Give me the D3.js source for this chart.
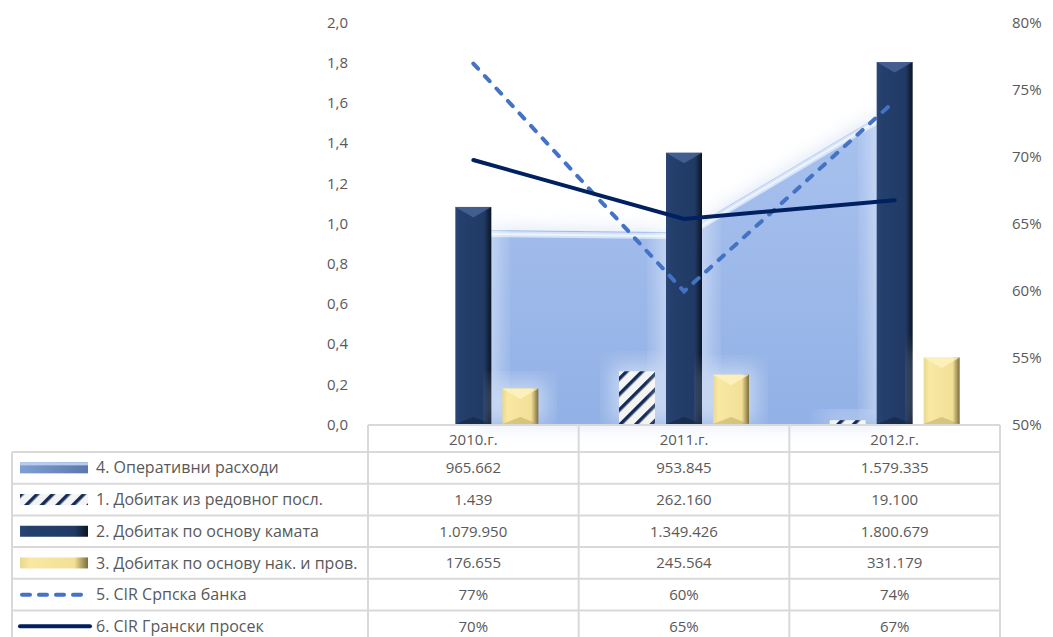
<!DOCTYPE html>
<html>
<head>
<meta charset="UTF-8">
<title>Оперативни расходи и добитак</title>
<style>
  body { margin: 0; background: #fff; }
  text { font-family: "Open Sans", "Noto Sans", sans-serif; fill: #595959; }
</style>
</head>
<body>
<script src="https://d3js.org/d3.v7.min.js"></script>
<svg width="1053" height="637"></svg>
<script>
    // categories and series (values in thousands)
    let years = ['2010.г.', '2011.г.', '2012.г.'];
    let opex = [965662, 953845, 1579335];           // 4. area
    let regularProfit = [1439, 262160, 19100];      // 1. striped bars
    let interestProfit = [1079950, 1349426, 1800679]; // 2. navy bars
    let feeProfit = [176655, 245564, 331179];       // 3. yellow bars
    let cirBank = [0.769, 0.599, 0.741];            // 5. dashed line
    let cirSector = [0.697, 0.653, 0.667];          // 6. solid line
    let leftTicks = [0, 0.2, 0.4, 0.6, 0.8, 1.0, 1.2, 1.4, 1.6, 1.8, 2.0];
    let rightTicks = [0.5, 0.55, 0.6, 0.65, 0.7, 0.75, 0.8];

    let legendNames = [
        '4. Оперативни расходи',
        '1. Добитак из редовног посл.',
        '2. Добитак по основу камата',
        '3. Добитак по основу нак. и пров.',
        '5. CIR Српска банка',
        '6. CIR Грански просек'
    ];

    let svg = d3.select('svg');
    let plotL = 368, plotR = 1000, plotT = 22, plotB = 424;

    let x = d3.scaleBand().domain(years).range([plotL, plotR]);
    let xc = d => x(d) + x.bandwidth() / 2;
    let sub = d3.scaleBand().domain(['r', 'i', 'f']).range([-65, 65]).paddingInner(11 / 47);
    let y = d3.scaleLinear().domain([0, 2]).range([plotB, plotT]);
    let y2 = d3.scaleLinear().domain([0.5, 0.8]).range([plotB, plotT]);

    let loc = d3.formatLocale({ decimal: ',', thousands: '.', grouping: [3], currency: ['', ''] });
    let fmtInt = loc.format(',d');
    let fmtAxis = loc.format('.1f');

    let defs = svg.append('defs');

    // gradients for bevelled bars
    function hGrad(id, stops) {
        let g = defs.append('linearGradient').attr('id', id).attr('x1', 0).attr('x2', 1).attr('y1', 0).attr('y2', 0);
        stops.forEach(s => g.append('stop').attr('offset', s[0]).attr('stop-color', s[1]));
    }
    hGrad('navyG', [[0, '#2a4675'], [0.15, '#243f6c'], [0.8, '#213a65'], [1, '#0b1424']]);
    hGrad('yelG', [[0, '#e9d88e'], [0.15, '#f8e8a2'], [0.8, '#f3e097'], [1, '#7c6d3c']]);
    hGrad('swA', [[0, '#7f9fd3'], [1, '#5a78ad']]);

    let vg = defs.append('linearGradient').attr('id', 'areaG').attr('x1', 0).attr('x2', 0).attr('y1', 0).attr('y2', 1);
    vg.append('stop').attr('offset', 0).attr('stop-color', '#a9c2ee');
    vg.append('stop').attr('offset', 1).attr('stop-color', '#92b1e6');

    let pat = defs.append('pattern').attr('id', 'stripes').attr('patternUnits', 'userSpaceOnUse')
        .attr('width', 11).attr('height', 11).attr('patternTransform', 'rotate(45)');
    pat.append('rect').attr('width', 11).attr('height', 11).attr('fill', '#f4f4f4');
    pat.append('rect').attr('x', 0).attr('width', 3.5).attr('height', 11).attr('fill', '#142c57');

    let glow = defs.append('filter').attr('id', 'glow').attr('x', '-20%').attr('y', '-20%').attr('width', '140%').attr('height', '140%');
    glow.append('feGaussianBlur').attr('stdDeviation', 10);

    // area: operating expenses
    let area = d3.area().x((d, i) => xc(years[i])).y0(plotB).y1(d => y(d / 1e6));
    svg.append('path').datum(opex).attr('d', area)
        .attr('fill', '#c9d8ef').attr('opacity', 0.7).attr('filter', 'url(#glow)');
    svg.append('path').datum(opex).attr('d', area).attr('fill', 'url(#areaG)');
    let topLine = d3.line().x((d, i) => xc(years[i])).y(d => y(d / 1e6) + 4);
    svg.append('path').datum(opex).attr('d', topLine).attr('fill', 'none')
        .attr('stroke', '#d4e3fa').attr('stroke-width', 6);
    svg.append('path').datum(opex).attr('d', topLine).attr('fill', 'none')
        .attr('stroke', '#eef4fd').attr('stroke-width', 2);

    // bars
    let barSeries = [
        { key: 'r', vals: regularProfit, fill: 'url(#stripes)', top: '#ffffff', bot: '#0e1f3d' },
        { key: 'i', vals: interestProfit, fill: 'url(#navyG)', top: '#4d6a9c', bot: '#0f1e38' },
        { key: 'f', vals: feeProfit, fill: 'url(#yelG)', top: '#fff4c4', bot: '#b9a661' }
    ];
    barSeries.forEach(s => {
        let g = svg.append('g');
        years.forEach((yr, i) => {
            let x0 = xc(yr) + sub(s.key), w = sub.bandwidth();
            let y0 = y(s.vals[i] / 1e6), h = plotB - y0;
            if (h < 0.5) return;
            g.append('rect').attr('x', x0 - 8).attr('y', y0 - 8).attr('width', w + 16).attr('height', h + 8)
                .attr('fill', '#ffffff').attr('opacity', 0.45).attr('filter', 'url(#glow)');
            g.append('rect').attr('x', x0).attr('y', y0).attr('width', w).attr('height', h).attr('fill', s.fill);
            if (h > 16 && s.key !== 'r') {
                let b = 7;
                g.append('polygon').attr('points', [[x0, y0], [x0 + w, y0], [x0 + w / 2, y0 + b * 1.5]].join(' '))
                    .attr('fill', s.top).attr('opacity', 0.75);
                g.append('polygon').attr('points', [[x0, plotB], [x0 + w, plotB], [x0 + w / 2, plotB - b]].join(' '))
                    .attr('fill', s.bot).attr('opacity', 0.5);
            }
        });
    });

    // lines on right axis
    let line2 = d3.line().x((d, i) => xc(years[i])).y(d => y2(d));
    svg.append('path').datum(cirBank).attr('d', line2).attr('fill', 'none')
        .attr('stroke', '#4472c4').attr('stroke-width', 4).attr('stroke-linecap', 'round')
        .attr('stroke-dasharray', '7,10');
    svg.append('path').datum(cirSector).attr('d', line2).attr('fill', 'none')
        .attr('stroke', '#002060').attr('stroke-width', 4).attr('stroke-linecap', 'round');

    // axes
    let axL = svg.append('g').attr('transform', 'translate(' + (plotL - 17) + ',0)')
        .call(d3.axisLeft(y).tickValues(leftTicks).tickFormat(d => fmtAxis(d)).tickSize(0));
    let axR = svg.append('g').attr('transform', 'translate(' + (plotR + 9) + ',0)')
        .call(d3.axisRight(y2).tickValues(rightTicks).tickFormat(d3.format('.0%')).tickSize(0));
    [axL, axR].forEach(a => {
        a.select('.domain').remove();
        a.selectAll('text').attr('font-size', 15).attr('fill', '#595959')
            .style('font-family', '"Open Sans", sans-serif').attr('dy', '0.35em');
    });

    // data table
    let rowTop = 425, headH = 27, rowH = 31.7, tblL = 12;
    let grid = '#d9d9d9';
    let tbl = svg.append('g');
    let rowsData = [opex, regularProfit, interestProfit, feeProfit, cirBank, cirSector];
    let fmtPct = d3.format('.0%');

    // header
    years.forEach(yr => {
        tbl.append('text').attr('x', xc(yr)).attr('y', rowTop + headH / 2 + 1).attr('dy', '0.35em')
            .attr('text-anchor', 'middle').attr('font-size', 15).text(yr);
    });
    rowsData.forEach((vals, r) => {
        let ry = rowTop + headH + r * rowH;
        vals.forEach((v, i) => {
            tbl.append('text').attr('x', xc(years[i])).attr('y', ry + rowH / 2).attr('dy', '0.35em')
                .attr('text-anchor', 'middle').attr('font-size', 15)
                .text(r >= 4 ? fmtPct(v) : fmtInt(v));
        });
        tbl.append('text').attr('x', 96).attr('y', ry + rowH / 2).attr('dy', '0.35em')
            .attr('font-size', 16).text(legendNames[r]);
    });

    // grid lines of the table
    let nRows = rowsData.length;
    let tblBottom = rowTop + headH + nRows * rowH;
    tbl.append('line').attr('x1', plotL).attr('x2', plotR).attr('y1', rowTop).attr('y2', rowTop)
        .attr('stroke', grid).attr('stroke-width', 2);
    for (let r = 0; r <= nRows; r++) {
        let ry = rowTop + headH + r * rowH;
        tbl.append('line').attr('x1', tblL).attr('x2', plotR).attr('y1', ry).attr('y2', ry)
            .attr('stroke', grid).attr('stroke-width', 2);
    }
    tbl.append('line').attr('x1', tblL).attr('x2', tblL).attr('y1', rowTop + headH).attr('y2', tblBottom)
        .attr('stroke', grid).attr('stroke-width', 2);
    years.forEach(yr => {
        tbl.append('line').attr('x1', x(yr)).attr('x2', x(yr)).attr('y1', rowTop).attr('y2', tblBottom)
            .attr('stroke', grid).attr('stroke-width', 2);
    });
    tbl.append('line').attr('x1', plotR).attr('x2', plotR).attr('y1', rowTop).attr('y2', tblBottom)
        .attr('stroke', grid).attr('stroke-width', 2);

    // legend keys inside the table
    let keyL = 20, keyW = 68, keyH = 11;
    let keyY = r => rowTop + headH + r * rowH + rowH / 2;
    let keys = svg.append('g');
    keys.append('rect').attr('x', keyL).attr('y', keyY(0) - keyH / 2).attr('width', keyW).attr('height', keyH)
        .attr('fill', 'url(#swA)');
    keys.append('rect').attr('x', keyL).attr('y', keyY(0) - keyH / 2).attr('width', keyW).attr('height', 3)
        .attr('fill', '#b7cbef');
    keys.append('rect').attr('x', keyL).attr('y', keyY(1) - keyH / 2).attr('width', keyW).attr('height', keyH)
        .attr('fill', 'url(#stripes)');
    keys.append('rect').attr('x', keyL).attr('y', keyY(2) - keyH / 2).attr('width', keyW).attr('height', keyH)
        .attr('fill', 'url(#navyG)');
    keys.append('rect').attr('x', keyL).attr('y', keyY(3) - keyH / 2).attr('width', keyW).attr('height', keyH)
        .attr('fill', 'url(#yelG)');
    keys.append('line').attr('x1', keyL + 2).attr('x2', keyL + keyW).attr('y1', keyY(4)).attr('y2', keyY(4))
        .attr('stroke', '#4472c4').attr('stroke-width', 4).attr('stroke-linecap', 'round')
        .attr('stroke-dasharray', '8,9');
    keys.append('line').attr('x1', keyL).attr('x2', keyL + keyW + 2).attr('y1', keyY(5)).attr('y2', keyY(5))
        .attr('stroke', '#002060').attr('stroke-width', 4).attr('stroke-linecap', 'round');
</script>
</body>
</html>
